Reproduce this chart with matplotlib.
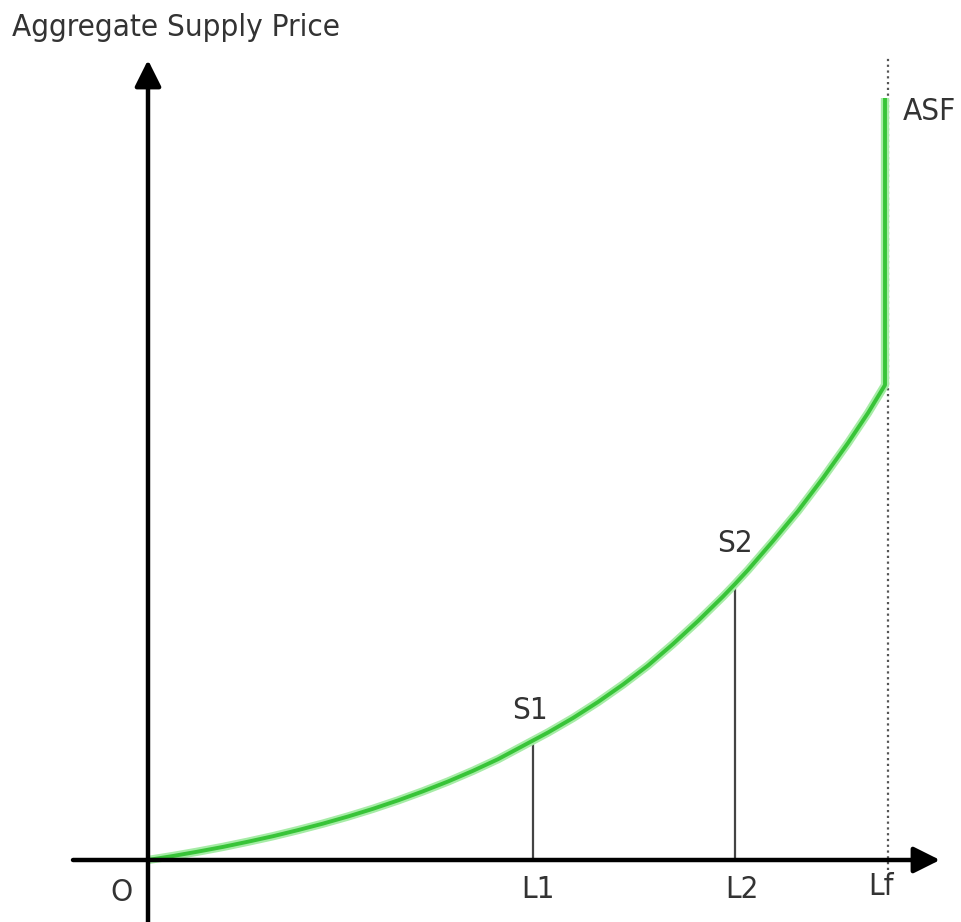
import matplotlib
matplotlib.use("Agg")
import matplotlib.pyplot as plt

# Aggregate supply function (labour employed vs aggregate supply price)
labour = [0, 25, 50, 75, 100, 125, 150, 175, 200, 225, 250, 275, 300, 325, 350, 385,
          400, 425, 450, 475, 500, 525, 550, 575, 587, 600, 625, 650, 675, 700, 720, 737]
supply_price = [0, 4, 8.4, 13.1, 18.3, 23.8, 29.9, 36.4, 43.5, 51.2, 59.6, 68.7, 78.5, 89.2, 100.8, 119.5,
                127.5, 142, 158, 175.5, 194.5, 216, 239, 263.5, 276, 290, 319, 349, 382, 417, 447, 475]
asf_top = 762
L_points = {"L1": 385, "L2": 587}
S_values = {"S1": 119.5, "S2": 276}
Lf = 737

fig = plt.figure(figsize=(9.61, 9.22), dpi=100)
ax = fig.add_axes([0, 0, 1, 1])
ax.set_xlim(-148, 813)
ax.set_ylim(-62, 860)
ax.axis("off")

txt = dict(family=["DejaVu Sans"], color="#333333", fontstretch="condensed")
fs = 22.5

# dotted full-employment line
ax.plot([Lf + 3, Lf + 3], [-10, 802], color="#555555", lw=1.6, ls=(0, (1, 1.6)), zorder=2)

# vertical drop lines
for k in ("L1", "L2"):
    x = L_points[k]
    y = S_values["S" + k[1]]
    ax.plot([x, x], [0, y], color="#444444", lw=1.6, zorder=2)

# ASF curve with soft glow
xs = labour + [Lf]
ys = supply_price + [asf_top]
ax.plot(xs, ys, color="#a6eca6", lw=6, solid_capstyle="butt", solid_joinstyle="round", zorder=3)
ax.plot(xs, ys, color="#38c438", lw=2.8, solid_capstyle="butt", solid_joinstyle="round", zorder=4)

# axes arrows
ax.annotate("", xy=(0, 800), xytext=(0, -62),
            arrowprops=dict(arrowstyle="-|>", lw=3.2, color="black", mutation_scale=40,
                            shrinkA=0, shrinkB=0), zorder=5)
ax.annotate("", xy=(792, 0), xytext=(-75, 0),
            arrowprops=dict(arrowstyle="-|>", lw=3.2, color="black", mutation_scale=40,
                            shrinkA=0, shrinkB=0), zorder=5)

# labels
ax.text(-136, 832, "Aggregate Supply Price", ha="left", va="center", fontsize=fs, **txt)
ax.text(-26, -32, "O", ha="center", va="center", fontsize=fs, **txt)
ax.text(L_points["L1"] + 5, -29, "L1", ha="center", va="center", fontsize=fs, **txt)
ax.text(L_points["L2"] + 7, -29, "L2", ha="center", va="center", fontsize=fs, **txt)
ax.text(Lf - 4, -26, "Lf", ha="center", va="center", fontsize=fs, **txt)
ax.text(L_points["L1"] - 3, 150, "S1", ha="center", va="center", fontsize=fs, **txt)
ax.text(L_points["L2"], 317, "S2", ha="center", va="center", fontsize=fs, **txt)
ax.text(Lf + 44, 748, "ASF", ha="center", va="center", fontsize=fs, **txt)

fig.savefig("out.png", dpi=100)
